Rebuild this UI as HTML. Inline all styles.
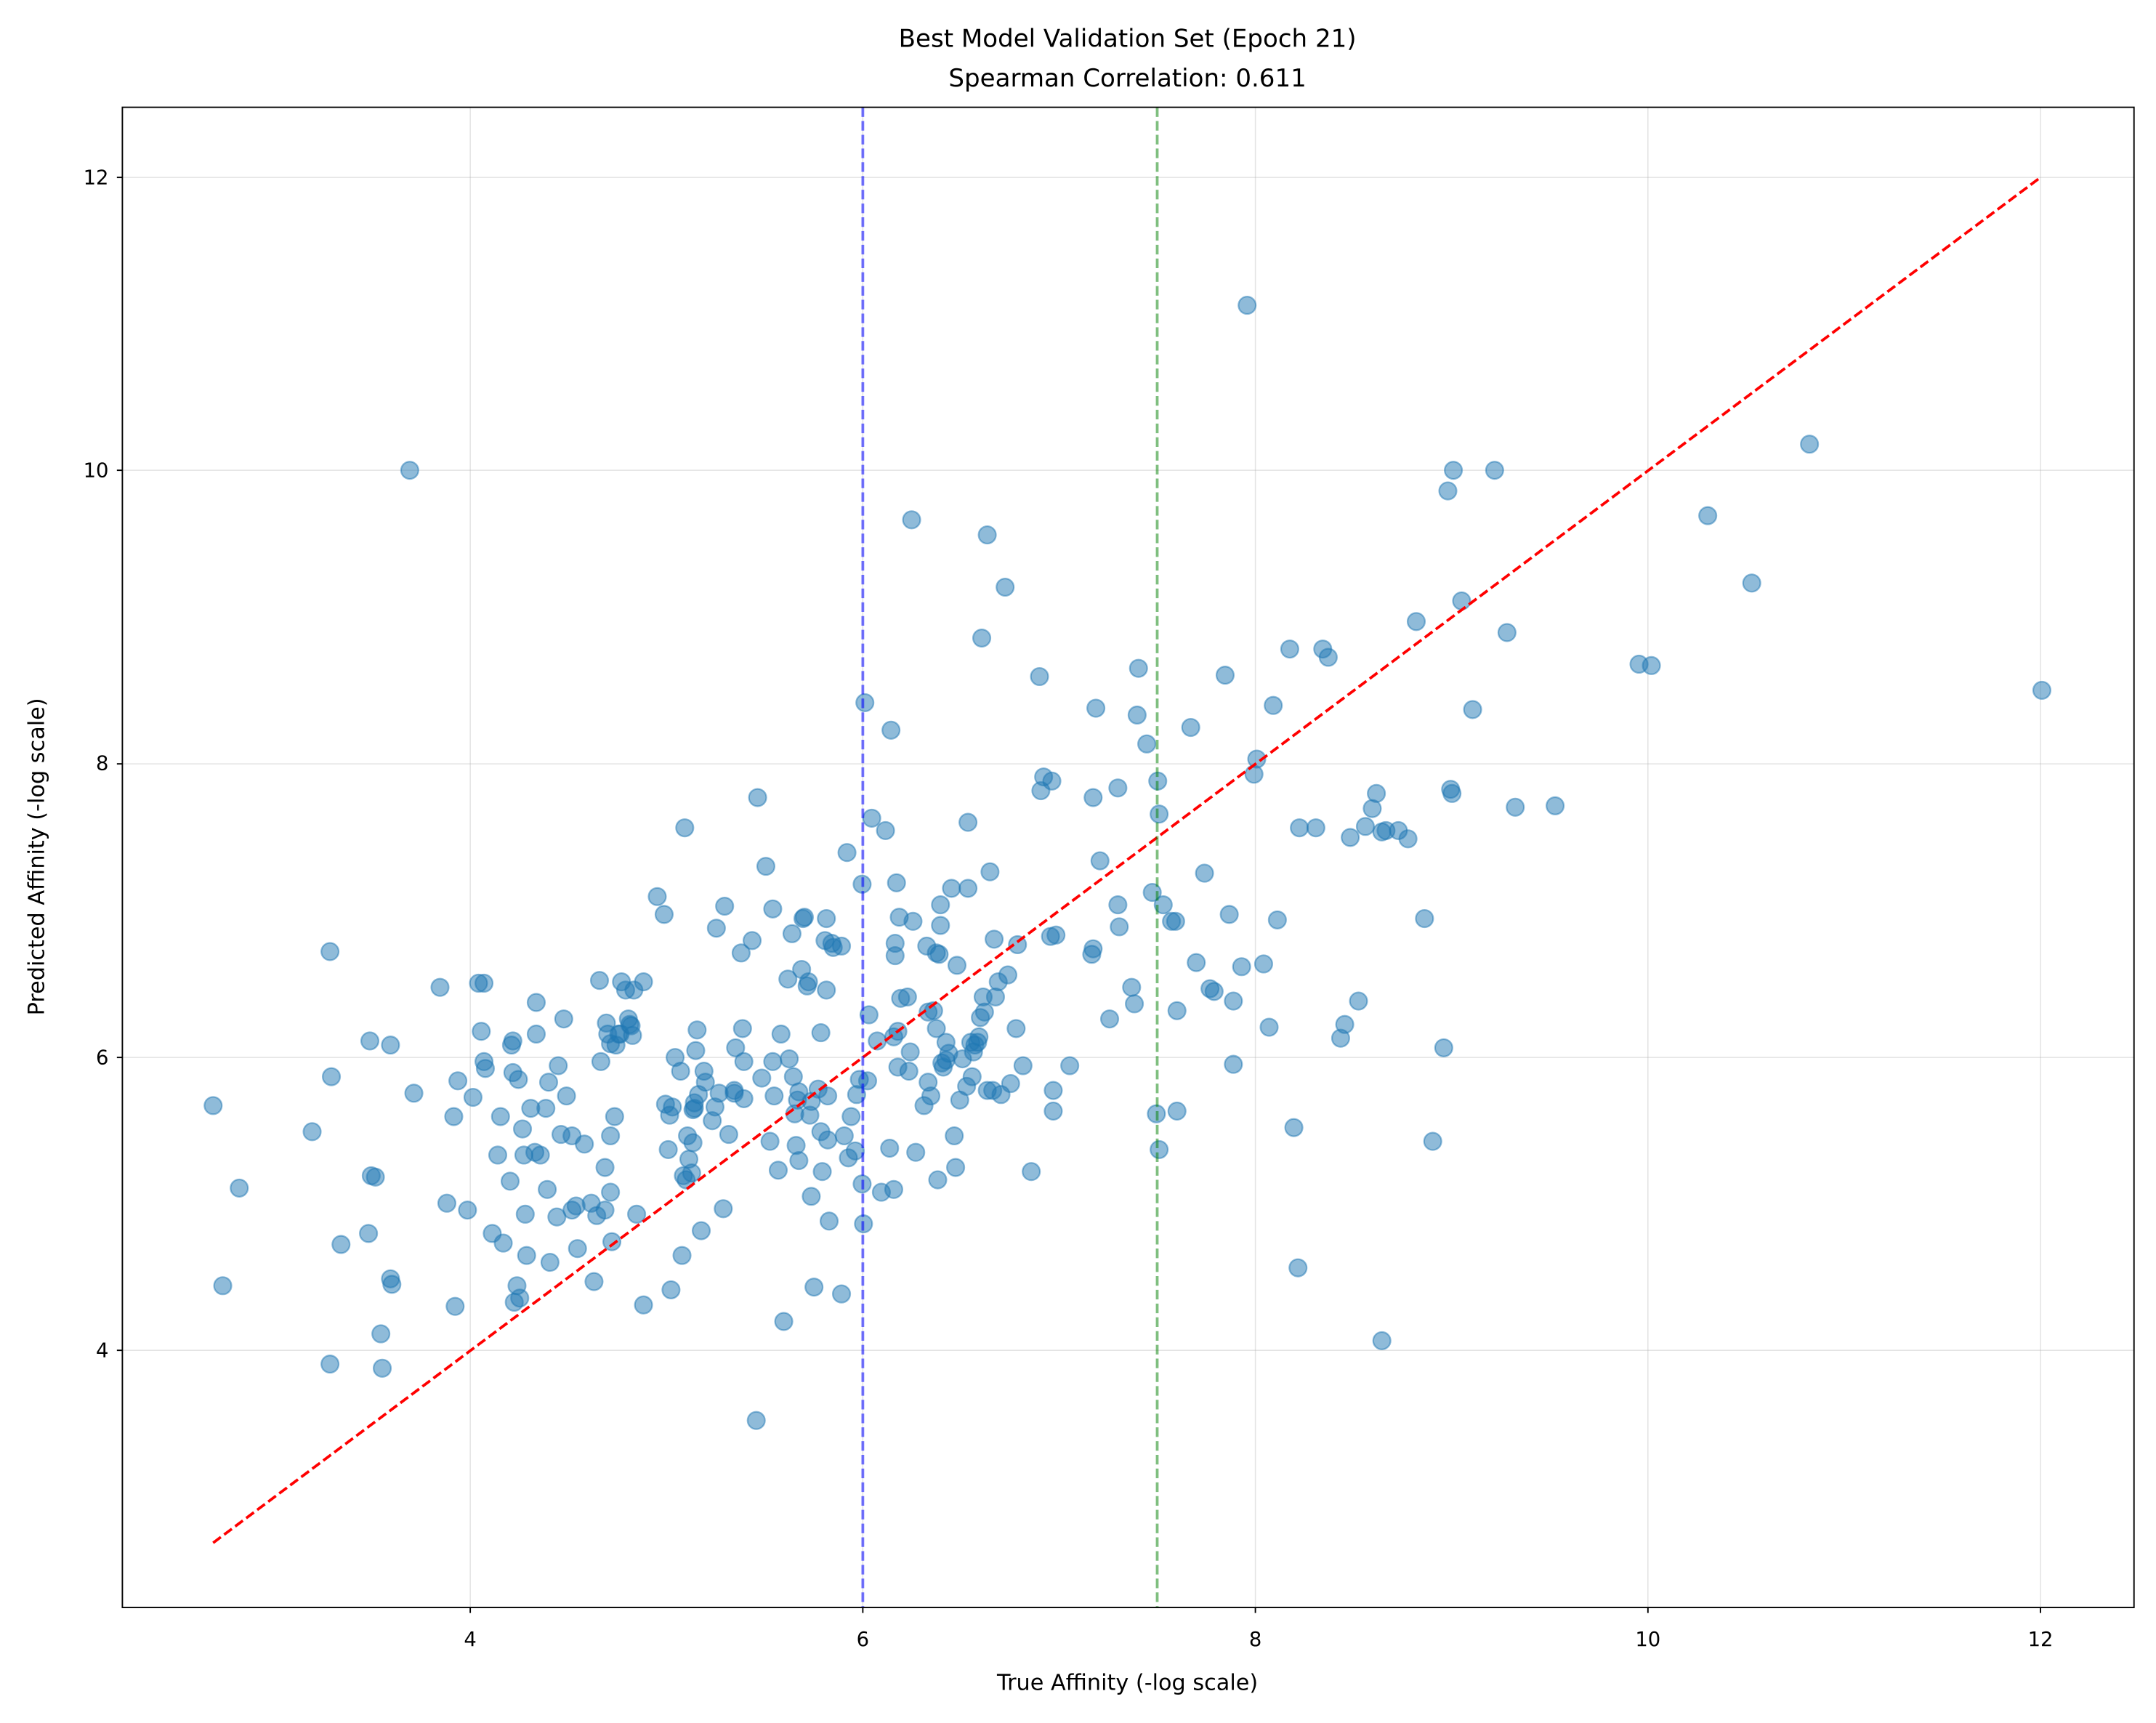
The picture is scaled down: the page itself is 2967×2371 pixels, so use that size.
<!DOCTYPE html>
<html><head><meta charset="utf-8"><style>html,body{margin:0;padding:0;background:#fff}svg{display:block}</style></head>
<body>
<svg width="2967" height="2371" viewBox="0 0 1568 1253" xmlns="http://www.w3.org/2000/svg" font-family="DejaVu Sans, Liberation Sans, sans-serif">
<rect width="1568" height="1253" fill="#fff"/>
<g stroke="#b0b0b0" stroke-opacity="0.35" stroke-width="0.8">
<line x1="342" y1="78" x2="342" y2="1169"/><line x1="627.5" y1="78" x2="627.5" y2="1169"/><line x1="913" y1="78" x2="913" y2="1169"/><line x1="1198.5" y1="78" x2="1198.5" y2="1169"/><line x1="1484" y1="78" x2="1484" y2="1169"/>
<line x1="89" y1="982" x2="1552" y2="982"/><line x1="89" y1="769" x2="1552" y2="769"/><line x1="89" y1="555.5" x2="1552" y2="555.5"/><line x1="89" y1="342" x2="1552" y2="342"/><line x1="89" y1="129" x2="1552" y2="129"/>
</g>
<g fill="#1f77b4" fill-opacity="0.5" stroke="#1f77b4" stroke-opacity="0.5" stroke-width="1.2" id="pts"></g>
<line x1="155" y1="1122" x2="1484" y2="129" stroke="#ff0000" stroke-width="2" stroke-dasharray="7,3"/>
<line x1="627.5" y1="78" x2="627.5" y2="1169" stroke="#0000ff" stroke-opacity="0.55" stroke-width="2" stroke-dasharray="7,3"/>
<line x1="841.6" y1="78" x2="841.6" y2="1169" stroke="#008000" stroke-opacity="0.5" stroke-width="2" stroke-dasharray="7,3"/>
<rect x="89" y="78" width="1463" height="1091" fill="none" stroke="#000" stroke-width="1"/>
<g stroke="#000" stroke-width="1">
<line x1="342" y1="1169" x2="342" y2="1173"/><line x1="627.5" y1="1169" x2="627.5" y2="1173"/><line x1="913" y1="1169" x2="913" y2="1173"/><line x1="1198.5" y1="1169" x2="1198.5" y2="1173"/><line x1="1484" y1="1169" x2="1484" y2="1173"/>
<line x1="85" y1="982" x2="89" y2="982"/><line x1="85" y1="769" x2="89" y2="769"/><line x1="85" y1="555.5" x2="89" y2="555.5"/><line x1="85" y1="342" x2="89" y2="342"/><line x1="85" y1="129" x2="89" y2="129"/>
</g>
<g font-size="14.5" fill="#000" text-anchor="middle">
<text x="342" y="1197">4</text><text x="627.5" y="1197">6</text><text x="913" y="1197">8</text><text x="1198.5" y="1197">10</text><text x="1484" y="1197">12</text>
</g>
<g font-size="14.5" fill="#000" text-anchor="end">
<text x="79" y="987">4</text><text x="79" y="774">6</text><text x="79" y="560">8</text><text x="79" y="347">10</text><text x="79" y="134">12</text>
</g>
<text x="820" y="1229" font-size="16" text-anchor="middle">True Affinity (-log scale)</text>
<text transform="translate(32,623) rotate(-90)" font-size="16" text-anchor="middle">Predicted Affinity (-log scale)</text>
<text x="820" y="34" font-size="18" text-anchor="middle">Best Model Validation Set (Epoch 21)</text>
<text x="820" y="63" font-size="18" text-anchor="middle">Spearman Correlation: 0.611</text>
</svg>
<script>
var P=[[155,804],[174,864],[162,935],[240,692],[241,783],[240,992],[248,905],[227,823],[269,757],[284,760],[270,855],[273,856],[268,897],[278,995],[277,970],[284,930],[285,934],[301,795],[298,342],[320,718],[325,875],[331,950],[330,812],[333,786],[340,880],[344,798],[348,715],[352,715],[350,750],[352,772],[353,777],[358,897],[362,840],[364,812],[366,904],[371,859],[372,760],[373,757],[373,780],[377,785],[380,821],[381,840],[382,883],[383,913],[376,935],[374,947],[378,944],[386,806],[390,729],[390,752],[389,838],[393,840],[397,806],[398,865],[399,787],[400,918],[405,885],[406,775],[408,825],[410,741],[412,797],[416,826],[416,880],[419,877],[420,908],[425,832],[430,875],[432,932],[434,884],[436,713],[437,772],[440,849],[440,880],[441,744],[444,826],[444,759],[444,867],[442,752],[445,903],[447,812],[448,760],[450,752],[451,752],[452,714],[455,720],[457,741],[458,745],[459,746],[460,753],[461,720],[463,883],[468,714],[468,949],[478,652],[483,665],[484,803],[486,836],[487,811],[489,805],[488,938],[491,769],[495,779],[496,913],[497,855],[500,826],[498,602],[499,858],[501,843],[503,853],[504,831],[505,806],[506,764],[504,807],[505,802],[507,749],[508,796],[510,895],[513,787],[512,779],[518,815],[520,805],[521,675],[523,795],[526,879],[527,659],[530,825],[534,793],[534,795],[535,762],[539,693],[540,748],[541,772],[541,799],[547,684],[550,1033],[551,580],[554,784],[557,630],[560,830],[562,661],[562,772],[563,797],[566,851],[568,752],[570,961],[573,712],[574,770],[576,679],[577,783],[578,810],[579,833],[580,800],[581,794],[581,844],[583,705],[584,668],[585,667],[587,717],[588,714],[589,811],[590,801],[590,870],[592,936],[595,792],[597,751],[597,823],[598,852],[600,684],[601,668],[601,720],[602,797],[602,829],[603,888],[605,686],[606,689],[612,941],[612,688],[614,826],[616,620],[617,842],[619,812],[622,837],[623,796],[625,785],[627,643],[627,861],[628,890],[629,511],[631,786],[632,738],[634,595],[638,757],[641,867],[644,604],[647,835],[648,531],[650,754],[650,865],[651,686],[651,695],[652,642],[653,750],[653,776],[654,667],[655,726],[660,725],[661,779],[662,765],[664,670],[666,838],[672,804],[674,688],[675,787],[675,736],[677,797],[679,735],[681,748],[681,693],[682,858],[683,694],[684,673],[684,658],[685,773],[686,776],[688,758],[688,771],[690,766],[692,646],[694,826],[695,849],[696,702],[698,800],[700,770],[703,790],[704,598],[704,646],[706,758],[707,783],[708,765],[709,760],[711,758],[712,754],[713,740],[714,464],[715,725],[716,736],[718,793],[720,634],[722,793],[723,683],[724,725],[726,714],[728,796],[733,709],[735,788],[739,748],[740,687],[663,378],[718,389],[731,427],
[744,775],[750,852],[757,575],[759,565],[756,492],[765,568],[766,808],[768,680],[764,681],[778,775],[766,793],[795,580],[795,690],[794,694],[797,515],[800,626],[807,741],[813,658],[813,573],[814,674],[823,718],[825,730],[827,520],[828,486],[834,541],[838,649],[842,568],[841,810],[843,836],[843,592],[846,658],[852,670],[855,670],[856,735],[856,808],[866,529],[870,700],[876,635],[880,719],[883,721],[891,491],[894,665],[897,728],[897,774],[903,703],[912,563],[914,552],[919,701],[923,747],[926,513],[929,669],[938,472],[941,820],[944,922],[945,602],[957,602],[962,472],[966,478],[978,745],[982,609],[988,728],[993,601],[998,588],[1001,577],[1005,975],[1005,605],[1008,604],[1017,604],[1024,610],[1030,452],[1055,574],[1042,830],[1056,577],[1053,357],[1057,342],[1063,437],[1071,516],[1096,460],[1102,587],[1131,586],[1192,483],[1201,484],[1242,375],[1274,424],[1316,323],[1485,502],[907,222],[1036,668],[1087,342],[975,755],[1050,762]];
var g=document.getElementById('pts'),s='';P.forEach(function(p){s+='<circle cx="'+p[0]+'" cy="'+p[1]+'" r="6.3"/>';});g.innerHTML=s;
</script>
</body></html>
